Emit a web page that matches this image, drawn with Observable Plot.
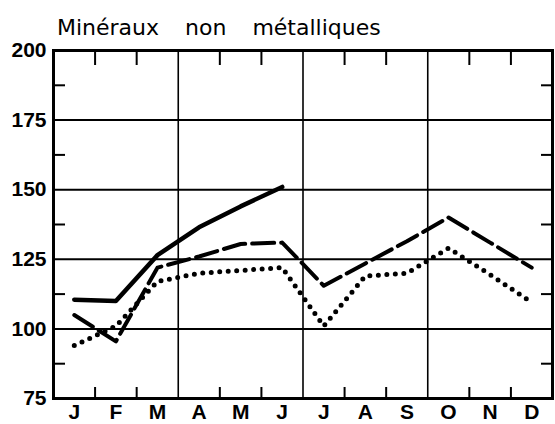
<!DOCTYPE html>
<html><head><meta charset="utf-8">
<script src="https://cdn.jsdelivr.net/npm/d3@7"></script>
<script src="https://cdn.jsdelivr.net/npm/@observablehq/plot@0.6"></script>
<style>
body{margin:0;background:#fff;}
#title{height:30px;box-sizing:border-box;padding-left:57px;padding-top:17px;font-family:"DejaVu Sans";font-size:22px;line-height:22px;word-spacing:19px;color:#000;white-space:nowrap;overflow:visible;}
svg{display:block}
</style></head><body>
<div id="title">Minéraux non métalliques</div>
<div id="chart"></div>
<script>
const months = ["J","F","M","A","M","J","J","A","S","O","N","D"];
const solid = [110.5,110,126.5,136.5,144,151];
const dashed = [105,95.5,122,126,130.5,131,115.5,123.5,131.5,140,131,122];
const dotted = [94,101,117,120,121,122,101,119,120,129,119.5,109.5];
const yLabels = [75,100,125,150,175,200];
const yGrid = [100,125,150,175];
const yMinor = [87.5,112.5,137.5,162.5,187.5];
const quarterLines = [3,6,9];
const monthMinor = [1,2,4,5,7,8,10,11];

const rows = arr => arr.map((v,i)=>({m:i+0.5, v}));
const monthPos = months.map((_,i)=>i+0.5);

const chart = Plot.plot({
  width:555, height:394, marginLeft:53, marginRight:3, marginTop:20, marginBottom:26,
  x:{domain:[0,12]}, y:{domain:[75,200]},
  style:{fontFamily:"Liberation Sans", fontSize:"21px", fontWeight:"bold", color:"#000", background:"transparent"},
  marks:[
    Plot.ruleY(yGrid,{stroke:"#000", strokeWidth:2}),
    Plot.ruleX(quarterLines,{stroke:"#000", strokeWidth:1.6}),
    Plot.axisY(yMinor,{anchor:"left", tickSize:-12, tickFormat:()=>"", strokeWidth:2, label:null}),
    Plot.axisY(yMinor,{anchor:"right", tickSize:-12, tickFormat:()=>"", strokeWidth:2, label:null}),
    Plot.axisY(yLabels,{anchor:"left", tickSize:0, tickPadding:7, label:null}),
    Plot.axisX(monthMinor,{anchor:"top", tickSize:-14, tickFormat:()=>"", strokeWidth:2, label:null}),
    Plot.axisX(monthMinor,{anchor:"bottom", tickSize:-11, tickFormat:()=>"", strokeWidth:2, label:null}),
    Plot.axisX(monthPos,{anchor:"bottom", tickSize:0, tickPadding:6, tickFormat:d=>months[Math.floor(d)], label:null}),
    Plot.line(rows(dotted),{x:"m", y:"v", stroke:"#000", strokeWidth:5, strokeDasharray:"0,8.5", strokeLinecap:"round"}),
    Plot.line(rows(dashed),{x:"m", y:"v", stroke:"#000", strokeWidth:4, strokeDasharray:"22,7"}),
    Plot.line(rows(solid),{x:"m", y:"v", stroke:"#000", strokeWidth:4.5, strokeLinejoin:"round", strokeLinecap:"round"}),
    Plot.frame({stroke:"#000", strokeWidth:3})
  ]
});
document.getElementById("chart").appendChild(chart);
</script>
</body></html>
